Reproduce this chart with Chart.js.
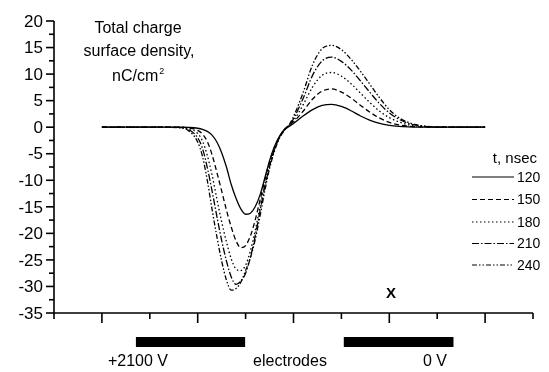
<!DOCTYPE html>
<html lang="en">
<head>
<meta charset="UTF-8">
<title>Total charge surface density</title>
<script src="https://cdn.jsdelivr.net/npm/chart.js@4.4.0/dist/chart.umd.min.js"></script>
<style>
    * { margin: 0; padding: 0; box-sizing: border-box; }
    body { background: #fff; width: 549px; height: 372px; overflow: hidden; }
    .chart-container { position: relative; width: 549px; height: 372px; }
</style>
</head>
<body>
<div class="chart-container"><canvas id="chargeChart"></canvas></div>
<script>
// position along the gap (arbitrary units, axis runs 0..10)
const xPositions = [1, 2, 2.6, 2.8, 3.0, 3.1, 3.2, 3.3, 3.4, 3.5, 3.6, 3.7, 3.8, 3.9, 4.0, 4.1, 4.2, 4.3, 4.4, 4.5, 4.6, 4.7, 4.8, 4.9, 5.0, 5.2, 5.4, 5.6, 5.8, 6.0, 6.2, 6.4, 6.6, 6.8, 7.0, 7.2, 7.4, 7.6, 7.8, 8.0, 9.0];

// charge density, nC/cm2, one list per time
const t120 = [0, 0, 0, -0.05, -0.2, -0.4, -0.8, -1.5, -2.8, -4.8, -7.5, -10.8, -13.4, -15.4, -16.4, -16.2, -15.0, -12.8, -9.6, -6.3, -3.7, -1.8, -0.5, 0.1, 0.7, 2.1, 3.3, 4.1, 4.3, 3.9, 3.1, 2.1, 1.3, 0.7, 0.35, 0.15, 0.05, 0, 0, 0, 0];
const t150 = [0, 0, 0, -0.1, -0.6, -1.3, -2.7, -5.2, -8.5, -12.0, -15.6, -18.8, -21.4, -22.7, -22.3, -20.5, -17.5, -13.8, -10.0, -6.6, -3.9, -1.9, -0.5, 0.3, 1.0, 3.0, 5.3, 6.8, 7.2, 6.6, 5.5, 4.1, 2.8, 1.7, 0.9, 0.45, 0.2, 0.05, 0, 0, 0];
const t180 = [0, 0, 0, -0.2, -1.2, -2.6, -5.3, -9.0, -13.5, -17.8, -21.6, -24.8, -26.7, -27.0, -26.0, -23.3, -19.5, -15.0, -10.7, -7.0, -4.1, -2.0, -0.6, 0.2, 1.2, 4.2, 7.6, 9.8, 10.3, 9.6, 8.2, 6.4, 4.6, 3.0, 1.8, 1.0, 0.45, 0.2, 0.05, 0, 0];
const t210 = [0, 0, -0.05, -0.4, -2.0, -4.0, -7.6, -12.0, -16.8, -21.3, -25.2, -28.2, -29.6, -29.0, -27.5, -24.5, -20.5, -15.8, -11.3, -7.4, -4.3, -2.1, -0.6, 0.2, 1.6, 5.4, 9.8, 12.5, 13.2, 12.4, 10.8, 8.7, 6.5, 4.4, 2.7, 1.5, 0.7, 0.3, 0.1, 0, 0];
const t240 = [0, 0, -0.1, -0.6, -2.8, -5.5, -10.0, -15.5, -20.6, -25.2, -28.8, -30.7, -30.4, -29.2, -27.0, -24.6, -21.2, -16.8, -12.0, -7.8, -4.6, -2.2, -0.7, 0.3, 2.0, 6.5, 11.8, 14.8, 15.4, 14.6, 12.8, 10.5, 8.0, 5.5, 3.3, 1.8, 0.9, 0.4, 0.15, 0.05, 0];

const seriesNames = ['120', '150', '180', '210', '240'];
const seriesValues = [t120, t150, t180, t210, t240];
const dashStyles = [[], [5, 3], [1.5, 2.5], [7, 2, 1.5, 2], [5, 2, 1.5, 2, 1.5, 2]];

const yTickValues = [20, 15, 10, 5, 0, -5, -10, -15, -20, -25, -30, -35];

// electrode plates along the x axis
const electrodeFrom = [1.71, 6.05];
const electrodeTo = [3.99, 8.34];
const electrodeLabels = ['+2100 V', '0 V'];

const FONT = '"Liberation Sans", Arial, sans-serif';

const axesPlugin = {
    id: 'axesPlugin',
    afterDraw(chart) {
        const ctx = chart.ctx;
        const xs = chart.scales.x;
        const ys = chart.scales.y;
        const left = xs.getPixelForValue(0);
        const right = xs.getPixelForValue(10);
        const bottom = ys.getPixelForValue(-35);
        const top = ys.getPixelForValue(20);

        ctx.save();
        ctx.strokeStyle = '#000';
        ctx.fillStyle = '#000';
        ctx.lineWidth = 1.6;

        // axis lines
        ctx.beginPath();
        ctx.moveTo(left, top);
        ctx.lineTo(left, bottom);
        ctx.lineTo(right, bottom);
        ctx.stroke();

        // y ticks, major every 5, minor between
        for (let v = -35; v <= 20; v += 2.5) {
            const y = ys.getPixelForValue(v);
            const major = v % 5 === 0;
            ctx.beginPath();
            ctx.moveTo(left - (major ? 8 : 5), y);
            ctx.lineTo(left, y);
            ctx.stroke();
        }
        ctx.font = '17px ' + FONT;
        ctx.textAlign = 'right';
        ctx.textBaseline = 'middle';
        yTickValues.forEach(v => {
            ctx.fillText(String(v), left - 11, ys.getPixelForValue(v) + 1);
        });

        // x ticks, no labels
        for (let v = 0; v <= 10; v++) {
            const x = xs.getPixelForValue(v);
            ctx.beginPath();
            ctx.moveTo(x, bottom);
            ctx.lineTo(x, bottom + (v % 2 === 1 ? 10 : 6));
            ctx.stroke();
        }

        // electrodes
        const barTop = bottom + 24;
        for (let i = 0; i < electrodeFrom.length; i++) {
            const x0 = xs.getPixelForValue(electrodeFrom[i]);
            const x1 = xs.getPixelForValue(electrodeTo[i]);
            ctx.fillRect(x0, barTop, x1 - x0, 10);
        }
        ctx.font = '16px ' + FONT;
        ctx.textAlign = 'center';
        ctx.textBaseline = 'alphabetic';
        ctx.fillText(electrodeLabels[0], 138, 366);
        ctx.fillText('electrodes', 290, 366);
        ctx.fillText(electrodeLabels[1], 435, 366);

        ctx.font = 'bold 15px ' + FONT;
        ctx.fillText('X', 391, 298);

        // quantity caption
        ctx.font = '16px ' + FONT;
        ctx.fillText('Total charge', 138, 33);
        ctx.fillText('surface density,', 139, 56);
        ctx.textAlign = 'left';
        ctx.fillText('nC/cm', 112, 81);
        const w = ctx.measureText('nC/cm').width;
        ctx.font = '9px ' + FONT;
        ctx.fillText('2', 112 + w + 1, 74);

        // legend
        ctx.font = '15px ' + FONT;
        ctx.textAlign = 'right';
        ctx.fillText('t, nsec', 537, 163);
        const rows = [177, 199.5, 222, 243.5, 265];
        ctx.lineWidth = 1.2;
        ctx.font = '14px ' + FONT;
        ctx.textAlign = 'left';
        seriesNames.forEach((name, i) => {
            ctx.setLineDash(dashStyles[i]);
            ctx.beginPath();
            ctx.moveTo(472, rows[i]);
            ctx.lineTo(514, rows[i]);
            ctx.stroke();
            ctx.setLineDash([]);
            ctx.textBaseline = 'middle';
            ctx.fillText(name, 517, rows[i] + 1);
        });
        ctx.restore();
    }
};

new Chart(document.getElementById('chargeChart'), {
    type: 'line',
    data: {
        datasets: seriesNames.map((name, i) => ({
            label: name,
            data: xPositions.map((x, j) => ({ x: x, y: seriesValues[i][j] })),
            borderColor: '#000',
            borderWidth: 1.3,
            borderDash: dashStyles[i],
            pointRadius: 0,
            fill: false,
            cubicInterpolationMode: 'monotone'
        }))
    },
    options: {
        responsive: true,
        maintainAspectRatio: false,
        animation: false,
        layout: { padding: { left: 54, right: 16, top: 21, bottom: 59 } },
        plugins: { legend: { display: false }, tooltip: { enabled: false } },
        scales: {
            x: { type: 'linear', min: 0, max: 10, display: false },
            y: { min: -35, max: 20, display: false }
        }
    },
    plugins: [axesPlugin]
});
</script>
</body>
</html>
